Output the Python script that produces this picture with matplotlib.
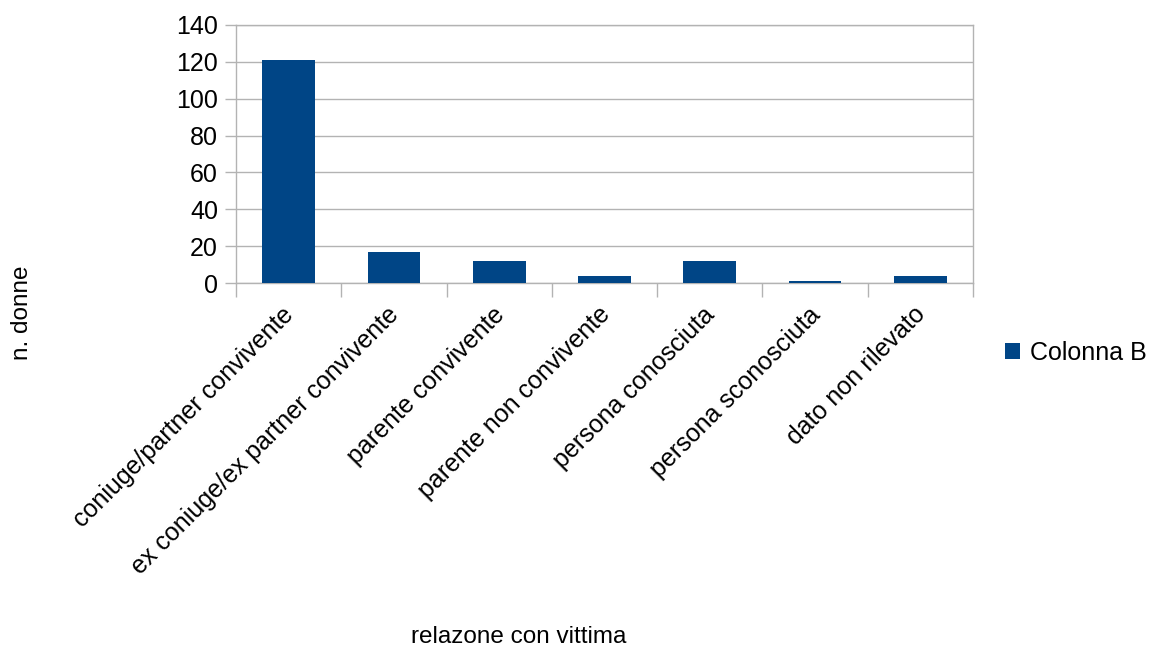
import matplotlib.pyplot as plt
from matplotlib.transforms import ScaledTranslation

plt.rcParams['font.family'] = ['Liberation Sans', 'DejaVu Sans']

categories = [
    "coniuge/partner convivente",
    "ex coniuge/ex partner convivente",
    "parente convivente",
    "parente non convivente",
    "persona conosciuta",
    "persona sconosciuta",
    "dato non rilevato",
]
values = [121, 17, 12, 4, 12, 1, 4]
y_ticks = [0, 20, 40, 60, 80, 100, 120, 140]

fig = plt.figure(figsize=(11.51, 6.48), dpi=100)
ax = fig.add_axes([236 / 1151, 1 - 283 / 648, (973 - 236) / 1151, (283 - 25) / 648])

x = list(range(len(categories)))
bars = ax.bar(x, values, width=0.5, color="#004586", zorder=3, label="Colonna B")

ax.set_xlim(-0.5, len(categories) - 0.5)
ax.set_ylim(0, 140)
ax.set_yticks(y_ticks)
ax.set_yticklabels([str(v) for v in y_ticks], fontsize=18)
ax.yaxis.grid(True, color="#b3b3b3", linewidth=1, zorder=0)

# category labels at centers, tick marks at boundaries
ax.set_xticks(x)
ax.set_xticklabels(categories, rotation=45, ha="right", va="top",
                   rotation_mode="anchor", fontsize=18)
ax.tick_params(axis="x", length=0, pad=14)
ax.set_xticks([i - 0.5 for i in range(len(categories) + 1)], minor=True)
ax.tick_params(axis="x", which="minor", length=10, color="#b3b3b3", width=1)
ax.tick_params(axis="y", length=8, color="#b3b3b3", width=1, pad=5)

# nudge rotated labels a little to the left
offset = ScaledTranslation(-7 / 100, 0, fig.dpi_scale_trans)
for label in ax.xaxis.get_majorticklabels():
    label.set_transform(label.get_transform() + offset)

for side in ["left", "right", "top", "bottom"]:
    ax.spines[side].set_color("#b3b3b3")
    ax.spines[side].set_linewidth(1)

fig.text(22 / 1151, 1 - 313 / 648, "n. donne", rotation=90, ha="center",
         va="center", fontsize=17.5)
fig.text(519 / 1151, 1 - 637 / 648, "relazone con vittima", ha="center",
         va="center", fontsize=17.5)

fig.legend(handles=[bars], labels=["Colonna B"], loc="center left",
           bbox_to_anchor=(1005 / 1151, 1 - 353 / 648), frameon=False,
           borderpad=0, borderaxespad=0,
           fontsize=18, handlelength=0.6, handleheight=0.6, handletextpad=0.4)

fig.savefig("out.png", dpi=100)
